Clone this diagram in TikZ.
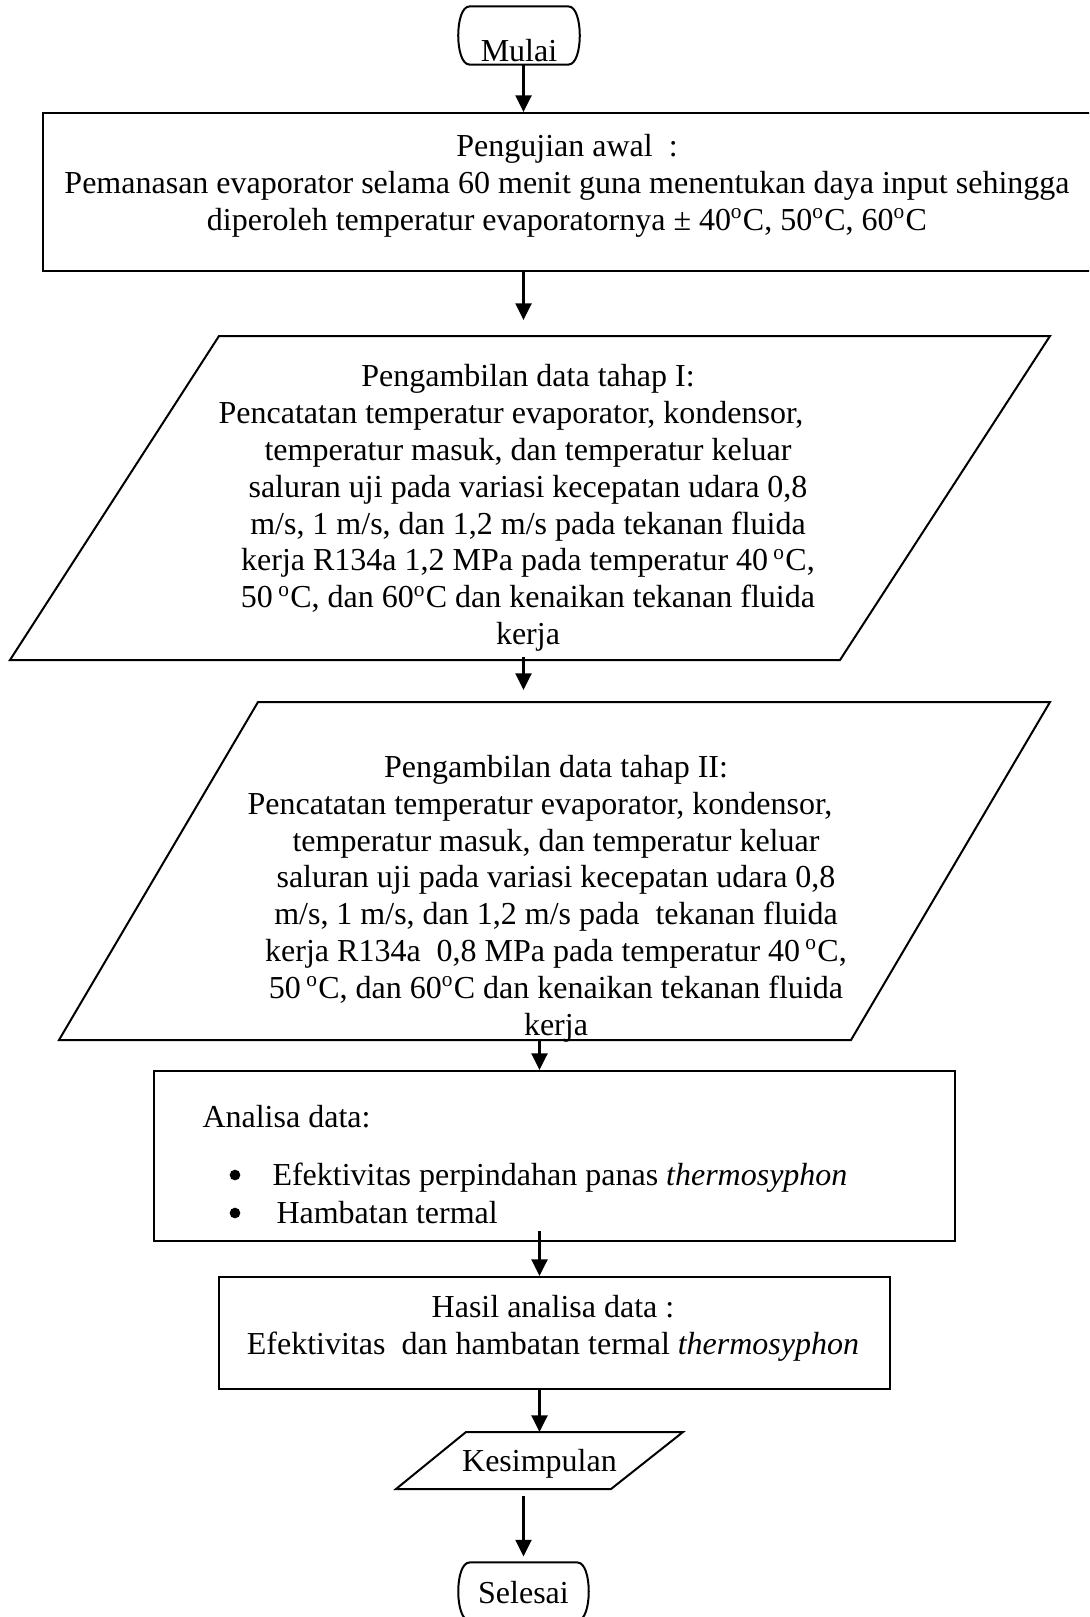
\documentclass[tikz,border=0pt]{standalone}
\usepackage{fontspec}
\setmainfont{Liberation Serif}
\usepackage{tikz}
\usetikzlibrary{arrows.meta}

\newcommand{\huruf}{\fontsize{12}{13.8}\selectfont}
\newcommand{\ujungbulat}[1]{\draw [black, line width=0.75pt, line join=round] (#1.north west) -- (#1.north east) .. controls +(15,0) and +(15,0) .. (#1.south east) -- (#1.south west) .. controls +(-15,0) and +(-15,0) .. (#1.north west) -- cycle;}

\begin{document}
\begin{tikzpicture}[x=0.375pt, y=-0.375pt,
    garis/.style={draw=black, line width=0.75pt},
    panah/.style={black, line width=1.2pt, -{Triangle[length=6.25pt, width=5.9pt]}},
    teks/.style={align=center}]
            \tikzstyle{every node}+=[inner sep=0pt, font=\huruf]
            \useasboundingbox (0,0) rectangle (1089,1617);
            \clip (0,0) rectangle (1089,1617);
            \coordinate (lajur) at (523.5,0);
            \coordinate (lajurb) at (539.5,0);
            \node [text height=20.625pt, text depth=0.75pt, minimum width=36.75pt] (mulai) at (519,35.5) {Mulai};
            \ujungbulat{mulai}
            \node [garis, minimum width=394.5pt, minimum height=59.25pt] (awal) at (569,192) {};
            \node [teks] (awalteks) at (567,186) {Pengujian awal~ :\\Pemanasan evaporator selama 60 menit guna menentukan daya input sehingga\\diperoleh temperatur evaporatornya ± 40\textsuperscript{o}C, 50\textsuperscript{o}C, 60\textsuperscript{o}C};
            \draw [garis] (10,660) -- (219,336) -- (1050,336) -- (840,660) -- cycle;
            \coordinate (tahap1atas) at (523.5,336);
            \coordinate (tahap1bawah) at (523.5,660);
            \node [teks] (tahap1) at (528,508) {Pengambilan data tahap I:\\Pencatatan temperatur evaporator, kondensor,\hspace*{12.75pt}\mbox{}\\temperatur masuk, dan temperatur keluar\\saluran uji pada variasi kecepatan udara 0,8\\m/s, 1 m/s, dan 1,2 m/s pada tekanan fluida\\kerja R134a 1,2 MPa pada temperatur 40\textsuperscript{ o}C,\\50\textsuperscript{ o}C, dan 60\textsuperscript{o}C dan kenaikan tekanan fluida\\kerja};
            \draw [garis] (59,1040) -- (258,702) -- (1050,702) -- (851,1040) -- cycle;
            \coordinate (tahap2atas) at (523.5,702);
            \coordinate (tahap2bawah) at (539.5,1040);
            \node [teks] (tahap2) at (556,898.5) {Pengambilan data tahap II:\\Pencatatan temperatur evaporator, kondensor,\hspace*{12pt}\mbox{}\\temperatur masuk, dan temperatur keluar\\saluran uji pada variasi kecepatan udara 0,8\\m/s, 1 m/s, dan 1,2 m/s pada~ tekanan fluida\\kerja R134a~ 0,8 MPa pada temperatur 40\textsuperscript{ o}C,\\50\textsuperscript{ o}C, dan 60\textsuperscript{o}C dan kenaikan tekanan fluida\\kerja};
            \node [garis, minimum width=300.4pt, minimum height=63.75pt] (analisa) at (554.5,1156) {};
            \node [anchor=base west] (analisajudul) at (202,1127) {Analisa data:};
            \fill [black] (235,1175) circle [radius=2pt];
            \node [anchor=base west] (poin1) at (272,1185) {Efektivitas perpindahan panas \textit{thermosyphon}};
            \fill [black] (235,1213) circle [radius=2pt];
            \node [anchor=base west] (poin2) at (276,1223) {Hambatan termal};
            \node [garis, minimum width=251.6pt, minimum height=42pt] (hasil) at (554.5,1333) {};
            \node [teks] (hasilteks) at (553,1328.5) {Hasil analisa data :\\Efektivitas~ dan hambatan termal \textit{thermosyphon}};
            \draw [garis] (396,1489) -- (466,1432) -- (683,1432) -- (611,1489) -- cycle;
            \coordinate (simpulatas) at (539.5,1432);
            \coordinate (simpulbawah) at (523.5,1489);
            \node [anchor=base] (simpul) at (539.5,1471) {Kesimpulan};
            \node [text height=15pt, text depth=6.375pt, minimum width=40.1pt] (selesai) at (523.5,1591.5) {Selesai};
            \ujungbulat{selesai}
            \draw [panah] (lajur |- mulai.south) -- (lajur |- awal.north);
            \draw [panah, shorten >=6pt] (lajur |- awal.south) -- (tahap1atas);
            \draw [panah, shorten <=-1.1pt, shorten >=4.5pt] (tahap1bawah) -- (tahap2atas);
            \draw [panah] (tahap2bawah) -- (lajurb |- analisa.north);
            \draw [panah, shorten <=-4pt] (lajurb |- analisa.south) -- (lajurb |- hasil.north);
            \draw [panah] (lajurb |- hasil.south) -- (simpulatas);
            \draw [panah, shorten <=2.6pt, shorten >=2.25pt] (simpulbawah) -- (lajur |- selesai.north);
\end{tikzpicture}
\end{document}
